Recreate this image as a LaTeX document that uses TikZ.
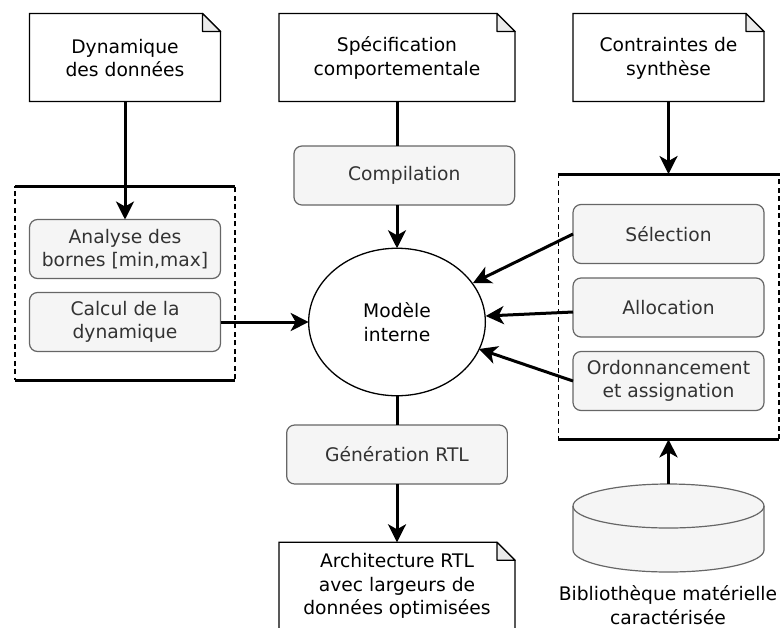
\documentclass[tikz,border=0pt]{standalone}
\usepackage{fontspec}
\setmainfont{DejaVu Sans}
\usetikzlibrary{arrows.meta,calc,shapes.geometric}
\definecolor{procfill}{HTML}{F5F5F5}
\definecolor{procline}{HTML}{666666}
\definecolor{proctext}{HTML}{333333}
\definecolor{foldfill}{HTML}{EBEBEB}
\tikzset{
  x=1pt,y=-1pt,
  every node/.style={font=\fontsize{18.7}{23.5}\selectfont,align=center,inner sep=0pt,outer sep=0pt},
  docbox/.style={minimum width=#1,minimum height=88pt},
  docbox/.default=191pt,
  procbox/.style={draw=procline,line width=1.2pt,fill=procfill,text=proctext,rounded corners=8pt,minimum height=59pt,minimum width=191pt},
  groupbox/.style={draw=black,line width=1.2pt,dash pattern=on 5pt off 3.5pt},
  flow/.style={line width=3pt,-{Stealth[length=18pt,width=18pt,inset=5pt]}},
  plain/.style={line width=3pt},
  bar/.style={line width=3pt},
}
\newcommand{\docshape}[1]{%
  \draw[line width=1.3pt,fill=white] (#1.north west) -- ($(#1.north east)+(-18,0)$) -- ($(#1.north east)+(0,18)$) -- (#1.south east) -- (#1.south west) -- cycle;
  \draw[line width=1.3pt,fill=foldfill,line join=round] ($(#1.north east)+(-18,0)$) -- ($(#1.north east)+(-18,18)$) -- ($(#1.north east)+(0,18)$) -- cycle;
}
\begin{document}
\begin{tikzpicture}
\useasboundingbox (0,0) rectangle (783,627);
\clip (0,0) rectangle (783,627);
% group boxes
\node[groupbox,minimum width=220pt,minimum height=193.5pt] (gl) at (125,283.5) {};
\draw[bar] (gl.north west) -- (gl.north east);
\draw[bar] (gl.south west) -- (gl.south east);
\node[groupbox,minimum width=220.7pt,minimum height=265.3pt] (gr) at (668.6,306.7) {};
\draw[bar] (gr.north west) -- (gr.north east);
\draw[bar] (gr.south west) -- (gr.south east);
% documents
\node[docbox] (d1) at (125,57.5) {};
\docshape{d1}
\node at ([yshift=-0.7pt]d1.center) {Dynamique\\des données};
\node[docbox=236pt] (d2) at (397,57.5) {};
\docshape{d2}
\node at ([yshift=-0.7pt]d2.center) {Spécification\\comportementale};
\node[docbox] (d3) at (668.5,57.5) {};
\docshape{d3}
\node at ([yshift=-0.7pt]d3.center) {Contraintes de\\synthèse};
\node[docbox=236pt] (d4) at (397,586.3) {};
\docshape{d4}
\node at (d4) {Architecture RTL\\avec largeurs de\\données optimisées};
% processes
\node[procbox,minimum width=220.7pt] (comp) at (404.3,175.5) {Compilation};
\node[procbox] (anal) at (125,249) {Analyse des\\bornes [min,max]};
\node[procbox] (calc) at (125,322) {Calcul de la\\dynamique};
\node[procbox] (sel) at (668.5,234) {Sélection};
\node[procbox] (alloc) at (668.5,307.5) {Allocation};
\node[procbox] (ordo) at (668.5,381) {Ordonnancement\\et assignation};
\node[procbox,minimum width=220.7pt] (gen) at (397,454.5) {Génération RTL};
% central model
\node[draw,line width=1.3pt,fill=white,ellipse,minimum width=176.7pt,minimum height=147.5pt] (model) at (397,322) {Modèle\\interne};
% library
\coordinate (libtop) at (668.5,484);
\coordinate (libw) at (573,506);
\coordinate (libe) at (764,506);
\draw[draw=procline,line width=1.2pt,fill=procfill] (libw) arc[start angle=180,end angle=360,x radius=95.5,y radius=22] -- (764,550) arc[start angle=0,end angle=180,x radius=95.5,y radius=22] -- cycle;
\draw[draw=procline,line width=1.2pt] (libw) arc[start angle=180,end angle=0,x radius=95.5,y radius=22];
\node (libtext) at (668,605) {Bibliothèque matérielle\\caractérisée};
% connectors
\coordinate (seltip) at (473,283);
\coordinate (alloctip) at (485.7,316);
\coordinate (ordotip) at (479,349);
\coordinate (allocout) at (573,312);
\draw[flow] (d1.south) -- (anal.north);
\draw[plain] (d2.south) -- (d2.south |- comp.north);
\draw[flow] (d2.south |- comp.south) -- (model.north);
\draw[flow] (d3.south) -- (d3.south |- gr.north);
\draw[flow] (calc.east) -- (model.west);
\draw[flow] (sel.west) -- (seltip);
\draw[flow] (allocout) -- (alloctip);
\draw[flow] (ordo.west) -- (ordotip);
\draw[plain] (model.south) -- (model.south |- gen.north);
\draw[flow] (model.south |- gen.south) -- (model.south |- d4.north);
\draw[flow] (libtop) -- (libtop |- gr.south);
\end{tikzpicture}
\end{document}
